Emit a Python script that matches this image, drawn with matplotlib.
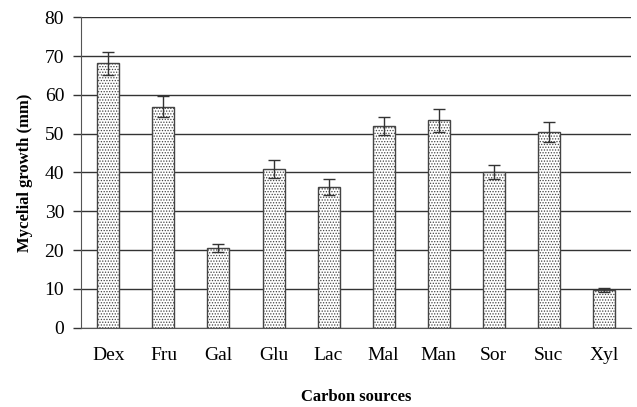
import matplotlib
matplotlib.use("Agg")
import matplotlib.pyplot as plt
import numpy as np

# data
sources = ["Dex", "Fru", "Gal", "Glu", "Lac", "Mal", "Man", "Sor", "Suc", "Xyl"]
growth = [68.1, 57.0, 20.5, 41.0, 36.3, 52.0, 53.4, 40.0, 50.4, 9.8]
err = [3.0, 2.8, 1.0, 2.3, 2.0, 2.4, 2.9, 1.8, 2.5, 0.5]

plt.rcParams["font.family"] = ["Liberation Serif", "DejaVu Serif"]
plt.rcParams["hatch.color"] = "#666666"
plt.rcParams["hatch.linewidth"] = 0.6

fig = plt.figure(figsize=(6.37, 4.07), dpi=100)
ax = fig.add_axes([0.127, 0.195, 0.864, 0.7625])

x = np.arange(len(sources))
ax.bar(x, growth, width=0.4, color="white", edgecolor="#444444", linewidth=1.0,
       hatch="......", zorder=3)
ax.errorbar(x, growth, yerr=err, fmt="none", ecolor="#333333", elinewidth=1.0,
            capsize=4, capthick=1.0, zorder=4)

ax.set_xlim(-0.5, len(sources) - 0.5)
ax.set_ylim(0, 80)
ax.set_yticks(range(0, 81, 10))
ax.yaxis.grid(True, color="#333333", linewidth=1.0, zorder=0)
ax.set_axisbelow(True)

ax.set_xticks(x)
ax.set_xticklabels(sources, fontsize=14)
ax.tick_params(axis="x", length=0, pad=14)
ax.tick_params(axis="y", labelsize=14, length=6, width=1.0, color="#333333", pad=6)

for s in ["top", "right"]:
    ax.spines[s].set_visible(False)
ax.spines["left"].set_color("#555555")
ax.spines["bottom"].set_color("#555555")

ax.set_ylabel("Mycelial growth (mm)", fontsize=12, fontweight="bold", labelpad=8)
ax.set_xlabel("Carbon sources", fontsize=12, fontweight="bold", labelpad=18)

fig.savefig("out.png", dpi=100)
